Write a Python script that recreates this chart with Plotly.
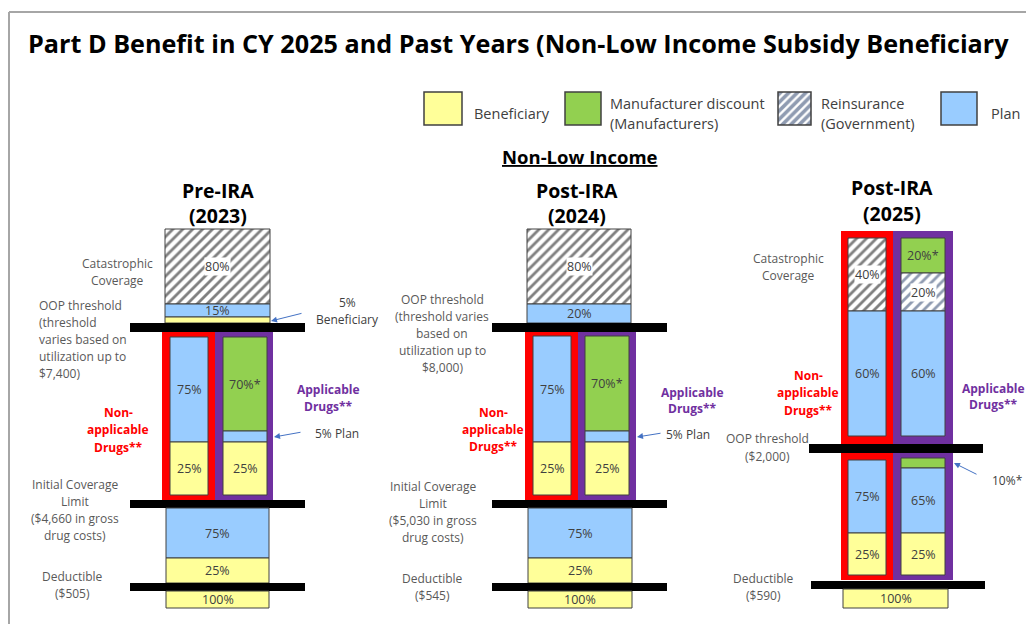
import plotly.graph_objects as go

# ---------------- DATA ----------------
title = "Part D Benefit in CY 2025 and Past Years (Non-Low Income Subsidy Beneficiary"
subtitle = "Non-Low Income"

legend_payers = ["Beneficiary", "Manufacturer", "Reinsurance", "Plan"]
legend_labels = ["Beneficiary", "Manufacturer discount<br>(Manufacturers)",
                 "Reinsurance<br>(Government)", "Plan"]

panel_titles = ["Pre-IRA<br>(2023)", "Post-IRA<br>(2024)", "Post-IRA<br>(2025)"]

# 2023 (Pre-IRA)
cat23_payer = ["Reinsurance", "Plan", "Beneficiary"]
cat23_label = ["80%", "15%", ""]
nonapp23_payer = ["Plan", "Beneficiary"]
nonapp23_label = ["75%", "25%"]
app23_payer = ["Manufacturer", "Plan", "Beneficiary"]
app23_label = ["70%*", "", "25%"]
icl23_payer = ["Plan", "Beneficiary"]
icl23_label = ["75%", "25%"]
ded23_payer = ["Beneficiary"]
ded23_label = ["100%"]
phase23 = ["Catastrophic<br>Coverage",
           "OOP threshold<br>(threshold<br>varies based on<br>utilization up to<br>$7,400)",
           "Initial Coverage<br>Limit<br>($4,660 in gross<br>drug costs)",
           "Deductible<br>($505)"]

# 2024 (Post-IRA)
cat24_payer = ["Reinsurance", "Plan"]
cat24_label = ["80%", "20%"]
nonapp24_payer = ["Plan", "Beneficiary"]
nonapp24_label = ["75%", "25%"]
app24_payer = ["Manufacturer", "Plan", "Beneficiary"]
app24_label = ["70%*", "", "25%"]
icl24_payer = ["Plan", "Beneficiary"]
icl24_label = ["75%", "25%"]
ded24_payer = ["Beneficiary"]
ded24_label = ["100%"]
phase24 = ["OOP threshold<br>(threshold varies<br>based on<br>utilization up to<br>$8,000)",
           "Initial Coverage<br>Limit<br>($5,030 in gross<br>drug costs)",
           "Deductible<br>($545)"]

# 2025 (Post-IRA)
catnon25_payer = ["Reinsurance", "Plan"]
catnon25_label = ["40%", "60%"]
catapp25_payer = ["Manufacturer", "Reinsurance", "Plan"]
catapp25_label = ["20%*", "20%", "60%"]
iclnon25_payer = ["Plan", "Beneficiary"]
iclnon25_label = ["75%", "25%"]
iclapp25_payer = ["Manufacturer", "Plan", "Beneficiary"]
iclapp25_label = ["", "65%", "25%"]
ded25_payer = ["Beneficiary"]
ded25_label = ["100%"]
phase25 = ["Catastrophic<br>Coverage", "OOP threshold<br>($2,000)", "Deductible<br>($590)"]

group_labels = ["Non-<br>applicable<br>Drugs**", "Applicable<br>Drugs**"]
callouts = ["5%<br>Beneficiary", "5% Plan", "5% Plan", "10%*"]

# ---------------- STYLE ----------------
FONT = "Open Sans"
TXT = "#404040"
LBL = "#595959"
RED = "#FF0000"
PURPLE = "#7030A0"
NAVY = "#1F3864"
ARROW = "#4472C4"
FILL = {"Beneficiary": "#FFFF99", "Manufacturer": "#92D050",
        "Reinsurance": "#FFFFFF", "Plan": "#99CCFF"}

fig = go.Figure()


def rect(x0, x1, y0, y1, color, line_color=None, line_width=0, pattern=None):
    marker = dict(color=color, line=dict(color=line_color or color, width=line_width))
    if pattern:
        marker["pattern"] = pattern
    fig.add_trace(go.Bar(x=[(x0 + x1) / 2], y=[y1 - y0], base=[y0], width=[x1 - x0],
                         marker=marker, showlegend=False, hoverinfo="skip"))


def lines(txt, x, y0, dy, size, color, bold=False, anchor="center", bg=None, under=False):
    for i, ln in enumerate(txt.split("<br>")):
        f = dict(family=FONT, size=size, color=color)
        if under:
            f["lineposition"] = "under"
        fig.add_annotation(x=x, y=y0 + i * dy, text=f"<b>{ln}</b>" if bold else ln,
                           xanchor=anchor, yanchor="middle", showarrow=False,
                           font=f, bgcolor=bg, borderpad=0)


def stack(x0, x1, y0, heights, payers, labels, hatch=("#000000", 7, 0.4)):
    y = y0
    for h, p, lab in zip(heights, payers, labels):
        pat = None
        if p == "Reinsurance":
            pat = dict(shape="/", fgcolor=hatch[0], size=hatch[1], solidity=hatch[2])
        rect(x0, x1, y, y + h, FILL[p], "#404040", 1, pat)
        if lab:
            lines(lab, (x0 + x1) / 2, y + h / 2, 16, 12.5, TXT,
                  bg="white" if p == "Reinsurance" else None)
        y += h


def bar(x0, x1, y0, y1):
    rect(x0, x1, y0, y1, "black")


def arrow(tail, head):
    fig.add_annotation(x=head[0], y=head[1], ax=tail[0], ay=tail[1], xref="x", yref="y",
                       axref="x", ayref="y", text="", showarrow=True, arrowhead=2,
                       arrowsize=1.2, arrowwidth=1, arrowcolor=ARROW)


# ---------------- LAYOUT GEOMETRY (page pixels) ----------------
# Title & legend
lines(title, 27, 43, 0, 25.2, "black", bold=True, anchor="left")
leg_boxes = [(424, 462), (565, 601), (778, 811), (941, 977)]
leg_text_x = [473, 609, 820, 990]
for p, lab, (bx0, bx1), tx in zip(legend_payers, legend_labels, leg_boxes, leg_text_x):
    pat = None
    if p == "Reinsurance":
        pat = dict(shape="/", fgcolor=NAVY, size=6, solidity=0.6)
    rect(bx0, bx1, 92, 125, FILL[p], "#404040", 1.5, pat)
    n = len(lab.split("<br>"))
    lines(lab, tx, 113 - (n - 1) * 9.5, 20, 14.5, TXT, anchor="left")
lines(subtitle, 580, 156, 0, 18.5, "black", bold=True, under=True)

# ---- Panel 2023 ----
lines(panel_titles[0], 218, 190, 25, 19.5, "black", bold=True)
stack(165, 270, 229, [75, 13, 6], cat23_payer, cat23_label)
rect(162, 215, 328, 500, RED)
rect(215, 273, 328, 500, PURPLE)
stack(170, 208, 337, [105, 53], nonapp23_payer, nonapp23_label)
stack(223, 267, 337, [94, 11, 53], app23_payer, app23_label)
bar(130, 305, 323, 332)
bar(130, 305, 500, 508)
stack(166, 269, 508, [50, 25], icl23_payer, icl23_label)
bar(130, 305, 583, 591)
stack(166, 269, 591, [17], ded23_payer, ded23_label)
lines(phase23[0], 117, 263, 17, 12, LBL)
lines(phase23[1], 38, 305, 17, 12, LBL, anchor="left")
lines(phase23[2], 75, 484, 17, 12, LBL)
lines(phase23[3], 72, 576, 17, 12, LBL)
lines(group_labels[0], 118, 412, 17.5, 12, RED, bold=True)
lines(group_labels[1], 328, 389, 17, 12, PURPLE, bold=True)
lines(callouts[0], 347, 302, 17, 12, TXT)
arrow((303, 313), (271, 321))
lines(callouts[1], 337, 433, 0, 12, TXT)
arrow((302, 432), (274, 437))

# ---- Panel 2024 ----
lines(panel_titles[1], 577, 190, 25, 19.5, "black", bold=True)
stack(527, 631, 229, [75, 19], cat24_payer, cat24_label)
rect(525, 578, 328, 500, RED)
rect(578, 636, 328, 500, PURPLE)
stack(533, 571, 336, [106, 53], nonapp24_payer, nonapp24_label)
stack(585, 629, 336, [95, 11, 53], app24_payer, app24_label)
bar(492, 667, 323, 332)
bar(492, 667, 500, 508)
stack(528, 632, 508, [50, 25], icl24_payer, icl24_label)
bar(492, 667, 583, 591)
stack(528, 632, 591, [17], ded24_payer, ded24_label)
lines(phase24[0], 442, 299, 17, 12, LBL)
lines(phase24[1], 433, 486, 17, 12, LBL)
lines(phase24[2], 432, 578, 17, 12, LBL)
lines(group_labels[0], 493, 412, 17, 12, RED, bold=True)
lines(group_labels[1], 692, 392, 16.5, 12, PURPLE, bold=True)
lines(callouts[2], 688, 434, 0, 12, TXT)
arrow((662, 433), (637, 437))

# ---- Panel 2025 ----
lines(panel_titles[2], 892, 187, 26, 19.5, "black", bold=True)
rect(841, 893, 231, 445, RED)
rect(893, 953, 231, 445, PURPLE)
stack(848, 886, 238, [73, 125], catnon25_payer, catnon25_label)
stack(901, 945, 238, [35, 38, 125], catapp25_payer, catapp25_label,
      hatch=(NAVY, 7, 0.4))
rect(841, 893, 449, 580, RED)
rect(893, 953, 449, 580, PURPLE)
stack(848, 886, 460, [73, 42], iclnon25_payer, iclnon25_label)
stack(901, 945, 458, [10, 65, 42], iclapp25_payer, iclapp25_label)
bar(809, 983, 444, 453)
bar(811, 985, 581, 589)
stack(843, 948, 589, [19], ded25_payer, ded25_label)
lines(phase25[0], 788, 258, 17, 12, LBL)
lines(phase25[1], 767, 438, 18, 12, LBL)
lines(phase25[2], 763, 578, 17, 12, LBL)
lines(group_labels[0], 808, 375, 17.5, 12, RED, bold=True)
lines(group_labels[1], 993, 388, 16.5, 12, PURPLE, bold=True)
lines(callouts[3], 1007, 480, 0, 12, TXT)
arrow((978, 475), (954, 463))

# frame
fig.add_shape(type="line", x0=9, y0=12, x1=1034, y1=12, line=dict(color="#A6A6A6", width=2))
fig.add_shape(type="line", x0=9, y0=12, x1=9, y1=624, line=dict(color="#A6A6A6", width=2))

# The page body has an 8px margin, so the figure spans page pixels 8..1034 / 8..624
fig.update_layout(
    width=1026, height=616, margin=dict(l=0, r=0, t=0, b=0),
    paper_bgcolor="white", plot_bgcolor="white", barmode="overlay", showlegend=False,
    xaxis=dict(range=[8, 1034], visible=False, fixedrange=True),
    yaxis=dict(range=[624, 8], visible=False, fixedrange=True),
    font=dict(family=FONT),
)
fig.write_html("out.html")
